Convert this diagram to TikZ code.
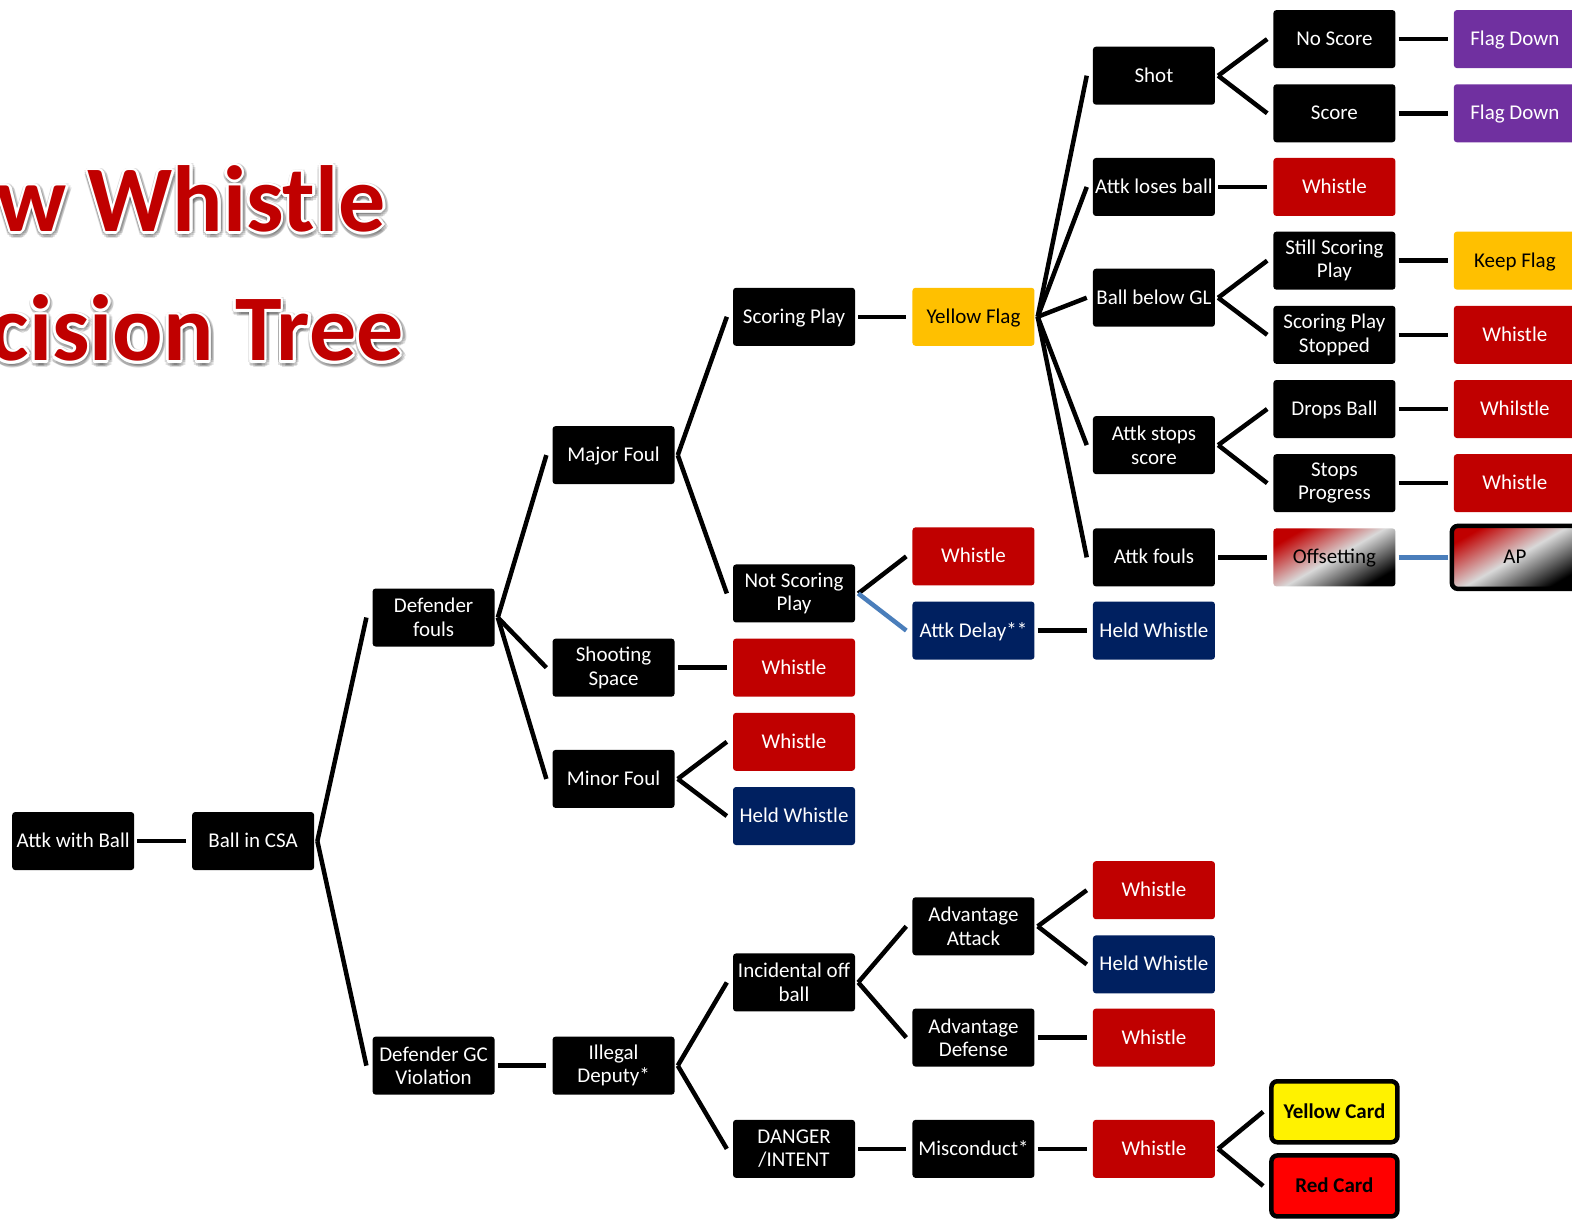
\documentclass[tikz,border=0pt]{standalone}
\usepackage{fontspec}
\setmainfont{Carlito}
\usetikzlibrary{calc}
\definecolor{sred}{HTML}{C00000}
\definecolor{navy}{HTML}{002060}
\definecolor{yflag}{HTML}{FFC000}
\definecolor{purp}{HTML}{7030A0}
\definecolor{bline}{HTML}{4A7EBB}
\definecolor{sgray}{HTML}{D9D9D9}
\pgfdeclarehorizontalshading{offsh}{100bp}{color(0bp)=(sred); color(25bp)=(sred); color(50bp)=(sgray); color(75bp)=(black); color(100bp)=(black)}
\newcommand\boxfont{\fontsize{21}{23.5}\selectfont}
\newcommand\ttlfont{\fontsize{94}{100}\selectfont\bfseries}
\begin{document}
\begin{tikzpicture}[x=1.00255pt,y=-1.00247pt,
  bx/.style={rectangle, rounded corners=3pt, minimum width=122pt, minimum height=58pt, inner sep=1pt, align=center, font=\boxfont, text=white},
  sl/.style={text height=17pt, text depth=4pt},
  blk/.style={bx, fill=black},
  rd/.style={bx, fill=sred, sl},
  nv/.style={bx, fill=navy, sl},
  yf/.style={bx, fill=yflag, text=black, sl},
  pp/.style={bx, fill=purp, sl},
  gr/.style={bx, shading=offsh, shading angle=-60, text=black, sl},
  card/.style={bx, draw=black, line width=4.5pt, rounded corners=6pt, minimum width=126pt, minimum height=61pt, text=black, font=\boxfont\bfseries, sl},
  conn/.style={line width=4.5pt, black},
  bconn/.style={line width=4.5pt, bline},
  ttl/.style={anchor=base east, inner sep=0pt, font=\ttlfont}]
\useasboundingbox (0,0) rectangle (1568,1215);
\clip (0,0) rectangle (1568,1215);
\fill[white] (0,0) rectangle (1568,1215);
% title
\foreach \a in {0,30,...,330} {
  \node[ttl, text=black, opacity=0.12] at ($(386,233)+(\a:4.5)$) {Slow Whistle};
  \node[ttl, text=black, opacity=0.12] at ($(404,362)+(\a:4.5)$) {Decision Tree};
}
\foreach \a in {0,30,...,330} {
  \node[ttl, text=white] at ($(385,231)+(\a:2.5)$) {Slow Whistle};
  \node[ttl, text=white] at ($(403,360)+(\a:2.5)$) {Decision Tree};
}
\node[ttl, text=sred] (t1) at (385,231) {Slow Whistle};
\node[ttl, text=sred] (t2) at (403,360) {Decision Tree};
% nodes
\node[blk, sl] (a0) at (73,839) {Attk with Ball};
\node[blk, sl] (b0) at (252.5,839) {Ball in CSA};
\node[blk] (c0) at (432.5,616) {Defender\\fouls};
\node[blk] (c1) at (432.5,1063) {Defender GC\\Violation};
\node[blk, sl] (d0) at (612,454) {Major Foul};
\node[blk] (d1) at (612,666) {Shooting\\Space};
\node[blk, sl] (d2) at (612,777) {Minor Foul};
\node[blk] (d3) at (612,1063) {Illegal\\Deputy*};
\node[blk, sl] (e0) at (792,316) {Scoring Play};
\node[blk] (e1) at (792,592) {Not Scoring\\Play};
\node[rd]  (e2) at (792,666) {Whistle};
\node[rd]  (e3) at (792,740) {Whistle};
\node[nv]  (e4) at (792,814) {Held Whistle};
\node[blk] (e5) at (792,980) {Incidental off\\ball};
\node[blk] (e6) at (792,1146) {DANGER\\/INTENT};
\node[yf]  (f0) at (971,316) {Yellow Flag};
\node[rd]  (f1) at (971,555) {Whistle};
\node[nv]  (f2) at (971,629) {Attk Delay**};
\node[blk] (f3) at (971,924) {Advantage\\Attack};
\node[blk] (f4) at (971,1035) {Advantage\\Defense};
\node[blk, sl] (f5) at (971,1146) {Misconduct*};
\node[blk, sl] (g0) at (1151,75.5) {Shot};
\node[blk, sl] (g1) at (1151,186.5) {Attk loses ball};
\node[blk, sl] (g2) at (1151,297) {Ball below GL};
\node[blk] (g3) at (1151,444) {Attk stops\\score};
\node[blk, sl] (g4) at (1151,556) {Attk fouls};
\node[nv]  (g5) at (1151,629) {Held Whistle};
\node[rd]  (g6) at (1151,888) {Whistle};
\node[nv]  (g7) at (1151,962) {Held Whistle};
\node[rd]  (g8) at (1151,1035) {Whistle};
\node[rd]  (g9) at (1151,1146) {Whistle};
\node[blk, sl] (h0) at (1331,39) {No Score};
\node[blk, sl] (h1) at (1331,113) {Score};
\node[rd]  (h2) at (1331,186.5) {Whistle};
\node[blk] (h3) at (1331,260) {Still Scoring\\Play};
\node[blk] (h4) at (1331,334) {Scoring Play\\Stopped};
\node[blk, sl] (h5) at (1331,408) {Drops Ball};
\node[blk] (h6) at (1331,482) {Stops\\Progress};
\node[gr]  (h7) at (1331,556) {Offsetting};
\node[card, fill=yellow] (h8) at (1331,1109) {Yellow Card};
\node[card, fill=red] (h9) at (1331,1183) {Red Card};
\node[pp]  (i0) at (1511,39) {Flag Down};
\node[pp]  (i1) at (1511,113) {Flag Down};
\node[yf]  (i2) at (1511,260) {Keep Flag};
\node[rd]  (i3) at (1511,334) {Whistle};
\node[rd]  (i4) at (1511,408) {Whilstle};
\node[rd]  (i5) at (1511,482) {Whistle};
\node[card, shading=offsh, shading angle=-60, font=\boxfont, minimum height=63pt] (i6) at (1511,556) {AP};
% connectors
\foreach \p/\c in {a0/b0, b0/c0, b0/c1, c0/d0, c0/d1, c0/d2, c1/d3,
  d0/e0, d0/e1, d1/e2, d2/e3, d2/e4, d3/e5, d3/e6,
  e0/f0, e1/f1, e5/f3, e5/f4, e6/f5,
  f0/g0, f0/g1, f0/g2, f0/g3, f0/g4, f2/g5, f3/g6, f3/g7, f4/g8, f5/g9,
  g0/h0, g0/h1, g1/h2, g2/h3, g2/h4, g3/h5, g3/h6, g4/h7, g9/h8, g9/h9,
  h0/i0, h1/i1, h3/i2, h4/i3, h5/i4, h6/i5}
  \draw[conn] ([xshift=3pt]\p.east) -- ([xshift=-6pt]\c.west);
\draw[bconn] ([xshift=3pt]e1.east) -- ([xshift=-6pt]f2.west);
\draw[bconn] ([xshift=3pt]h7.east) -- ([xshift=-2pt]i6.west);
\end{tikzpicture}
\end{document}
